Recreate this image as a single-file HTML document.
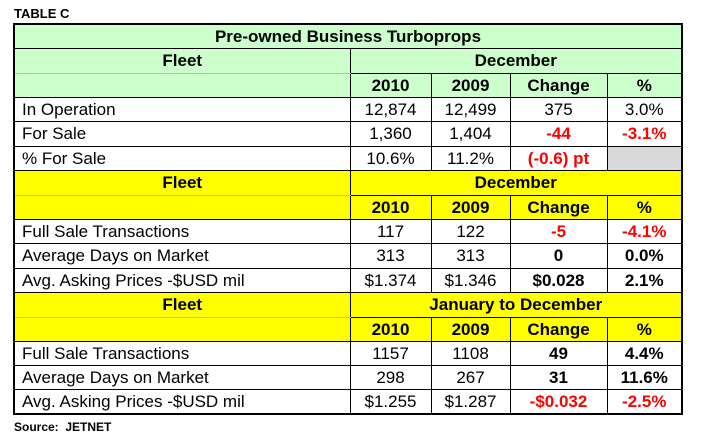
<!DOCTYPE html>
<html><head><style>
body{margin:0;width:716px;height:437px;background:#fff;position:relative;font-family:"Liberation Sans",Arial,sans-serif;}
.t{position:absolute;left:13px;top:23px;border-collapse:collapse;border:2px solid #000;table-layout:fixed;}
td{border:1px solid #000;padding:0;height:23px;font-size:17px;text-align:center;line-height:22px;white-space:nowrap;overflow:hidden;}
tr.h td{height:24px;}
td.l{text-align:left;padding-left:7px;}
.g td{background:#ccffcc;}
.y td{background:#ffff00;}
.b{font-weight:bold;}
.r{color:#ff0000;font-weight:bold;}
td.fl{border-bottom:1px solid #bbb;font-weight:bold;}
td.fe{border-top:1px solid #bbb;}
.cap{position:absolute;left:14px;font-size:12px;font-weight:bold;}
</style></head><body>
<div class="cap" style="top:6px;font-size:13px">TABLE C</div>
<table class="t">
<colgroup><col style="width:336px"><col style="width:81px"><col style="width:79px"><col style="width:97px"><col style="width:75px"></colgroup>
<tr class="g"><td colspan="5" class="b">Pre-owned Business Turboprops</td></tr>
<tr class="g h"><td class="fl">Fleet</td><td colspan="4" class="b">December</td></tr>
<tr class="g"><td class="fe"></td><td class="b">2010</td><td class="b">2009</td><td class="b">Change</td><td class="b">%</td></tr>
<tr><td class="l">In Operation</td><td>12,874</td><td>12,499</td><td>375</td><td>3.0%</td></tr>
<tr class="h"><td class="l">For Sale</td><td>1,360</td><td>1,404</td><td class="r">-44</td><td class="r">-3.1%</td></tr>
<tr><td class="l">% For Sale</td><td>10.6%</td><td>11.2%</td><td class="r">(-0.6) pt</td><td style="background:#d9d9d9"></td></tr>
<tr class="y h"><td class="fl">Fleet</td><td colspan="4" class="b">December</td></tr>
<tr class="y"><td class="fe"></td><td class="b">2010</td><td class="b">2009</td><td class="b">Change</td><td class="b">%</td></tr>
<tr><td class="l">Full Sale Transactions</td><td>117</td><td>122</td><td class="r">-5</td><td class="r">-4.1%</td></tr>
<tr class="h"><td class="l">Average Days on Market</td><td>313</td><td>313</td><td class="b">0</td><td class="b">0.0%</td></tr>
<tr><td class="l">Avg. Asking Prices -$USD mil</td><td>$1.374</td><td>$1.346</td><td class="b">$0.028</td><td class="b">2.1%</td></tr>
<tr class="y h"><td class="fl">Fleet</td><td colspan="4" class="b">January to December</td></tr>
<tr class="y"><td class="fe"></td><td class="b">2010</td><td class="b">2009</td><td class="b">Change</td><td class="b">%</td></tr>
<tr><td class="l">Full Sale Transactions</td><td>1157</td><td>1108</td><td class="b">49</td><td class="b">4.4%</td></tr>
<tr><td class="l">Average Days on Market</td><td>298</td><td>267</td><td class="b">31</td><td class="b">11.6%</td></tr>
<tr><td class="l">Avg. Asking Prices -$USD mil</td><td>$1.255</td><td>$1.287</td><td class="r">-$0.032</td><td class="r">-2.5%</td></tr>
</table>
<div class="cap" style="top:420px">Source:&nbsp; JETNET</div>
</body></html>
